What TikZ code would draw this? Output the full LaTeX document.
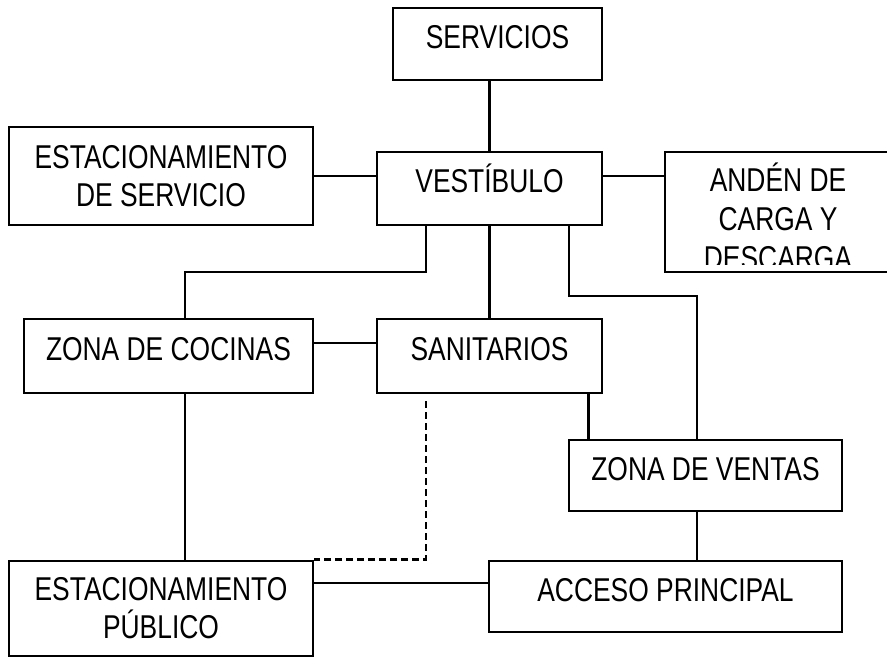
\documentclass[tikz,border=0pt]{standalone}
\usepackage{fontspec}
\setmainfont{Liberation Sans}[FakeStretch=0.8]

\begin{document}
\begin{tikzpicture}[x=1pt, y=-1pt,
    box/.style={draw, line width=2.8pt, inner sep=0pt, align=center,
      font=\fontsize{33}{38}\selectfont},
    oneline/.style={box, text height=23pt, text depth=14pt},
    link/.style={line width=2.4pt},
    dashlink/.style={line width=2.4pt, dash pattern=on 7pt off 4pt}]
    \useasboundingbox (0,0) rectangle (887,658);
    \clip (0,0) rectangle (887,658);

    \node[oneline, minimum width=209, minimum height=72] (serv) at (497.5,44) {SERVICIOS};
    \node[box, minimum width=304, minimum height=98] (estserv) at (161,176) {ESTACIONAMIENTO\\DE SERVICIO};
    \node[oneline, minimum width=225, minimum height=73] (vest) at (489.5,188.5) {VESTÍBULO};
    \node[box, minimum width=226, minimum height=120] (anden) at (778,212) {};
    \node[oneline, minimum width=289, minimum height=74] (cocinas) at (168.5,356) {ZONA DE COCINAS};
    \node[oneline, minimum width=225, minimum height=74] (sanit) at (489.5,356) {SANITARIOS};
    \node[oneline, minimum width=273, minimum height=71] (ventas) at (705.5,475.5) {ZONA DE VENTAS};
    \node[box, minimum width=304, minimum height=95] (publico) at (161,608.5) {ESTACIONAMIENTO\\PÚBLICO};
    \node[oneline, minimum width=353, minimum height=71] (acceso) at (665.5,596.5) {ACCESO PRINCIPAL};

    % text of the loading dock runs past its box
    \begin{scope}
      \clip (anden.north west) rectangle ([yshift=9pt]anden.south east);
      \node[align=center, font=\fontsize{33}{39}\selectfont] (andentxt) at (778,216) {ANDÉN DE\\CARGA Y\\DESCARGA};
    \end{scope}

    \coordinate (xa) at (185,0);
    \coordinate (xb) at (426,272);
    \coordinate (xc) at (569,296);
    \coordinate (xd) at (697,0);
    \coordinate (ya) at (0,583);

    \draw[link] (vest.north) -- (vest.north |- serv.south);
    \draw[link] (estserv.east) -- (estserv.east -| vest.west);
    \draw[link] (estserv.east -| vest.east) -- (estserv.east -| anden.west);
    \draw[link] (xb |- vest.south) -- (xb) -| (xa |- cocinas.north);
    \draw[link] (vest.south) -- (sanit.north);
    \draw[link] (xc |- vest.south) -- (xc) -| (xd |- ventas.north);
    \draw[link] ([yshift=13pt]cocinas.east) -- ([yshift=13pt]cocinas.east -| sanit.west);
    \draw[link] (xa |- cocinas.south) -- (xa |- publico.north);
    \draw[link] ([xshift=-15pt]sanit.south east) -- ([xshift=-15pt]sanit.south east |- ventas.north);
    \draw[link] (xd |- ventas.south) -- (xd |- acceso.north);
    \draw[link] (ya -| publico.east) -- (ya -| acceso.west);
    \draw[dashlink] ([yshift=-7pt]sanit.south -| xb) |- (publico.north east);
\end{tikzpicture}
\end{document}
